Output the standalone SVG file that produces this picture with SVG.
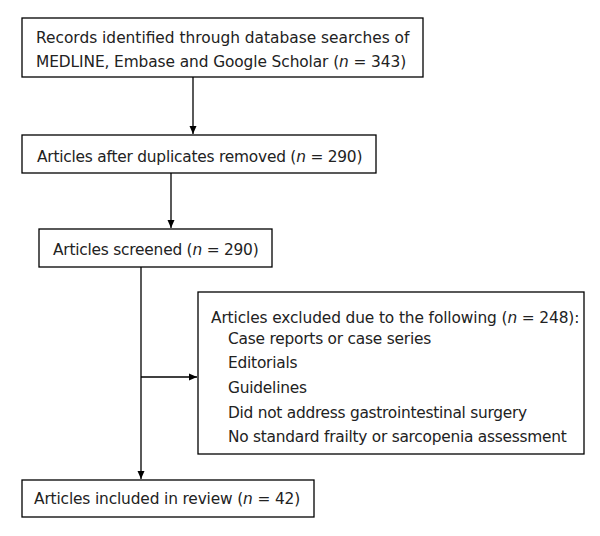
<svg xmlns="http://www.w3.org/2000/svg" width="600" height="536" viewBox="0 0 600 536">
<defs>
<marker id="ah" markerWidth="8" markerHeight="8" refX="8" refY="4" orient="auto" markerUnits="userSpaceOnUse">
<path d="M0,0.5 L8,4 L0,7.5 Z" fill="#000"/>
</marker>
</defs>
<style>
.box{fill:#fff;stroke:#000;stroke-width:1.3}
.t{font-family:"DejaVu Sans",Verdana,sans-serif;font-size:15.4px;fill:#222;letter-spacing:-0.22px}
.i{font-style:italic}
.c{fill:none;stroke:#000;stroke-width:1.3}
</style>
<rect width="600" height="536" fill="#fff"/>
<g id="connectors">
<line class="c" x1="193" y1="77" x2="193" y2="134" marker-end="url(#ah)"/>
<line class="c" x1="171" y1="173" x2="171" y2="228" marker-end="url(#ah)"/>
<line class="c" x1="141" y1="267" x2="141" y2="479" marker-end="url(#ah)"/>
<line class="c" x1="141" y1="377" x2="197" y2="377" marker-end="url(#ah)"/>
</g>
<g id="records">
<rect class="box" x="22" y="18" width="401" height="59"/>
<text class="t" x="36" y="43" style="letter-spacing:0">Records identified through database searches of</text>
<text class="t" x="36" y="67" style="letter-spacing:-0.1px">MEDLINE, Embase and Google Scholar (<tspan class="i">n</tspan> = 343)</text>
</g>
<g id="duplicates">
<rect class="box" x="22" y="135" width="354" height="38"/>
<text class="t" x="37" y="162">Articles after duplicates removed (<tspan class="i">n</tspan> = 290)</text>
</g>
<g id="screened">
<rect class="box" x="39" y="229" width="233" height="38"/>
<text class="t" x="53" y="255">Articles screened (<tspan class="i">n</tspan> = 290)</text>
</g>
<g id="excluded">
<rect class="box" x="198" y="292" width="386" height="162"/>
<text class="t" x="211" y="323" style="letter-spacing:-0.12px">Articles excluded due to the following (<tspan class="i">n</tspan> = 248):</text>
<text class="t" x="228" y="344">Case reports or case series</text>
<text class="t" x="228" y="368">Editorials</text>
<text class="t" x="228" y="393">Guidelines</text>
<text class="t" x="228" y="418" style="letter-spacing:-0.27px">Did not address gastrointestinal surgery</text>
<text class="t" x="228" y="442" style="letter-spacing:-0.25px">No standard frailty or sarcopenia assessment</text>
</g>
<g id="included">
<rect class="box" x="22" y="480" width="292" height="37"/>
<text class="t" x="34" y="504" style="letter-spacing:-0.15px">Articles included in review (<tspan class="i">n</tspan> = 42)</text>
</g>
</svg>
